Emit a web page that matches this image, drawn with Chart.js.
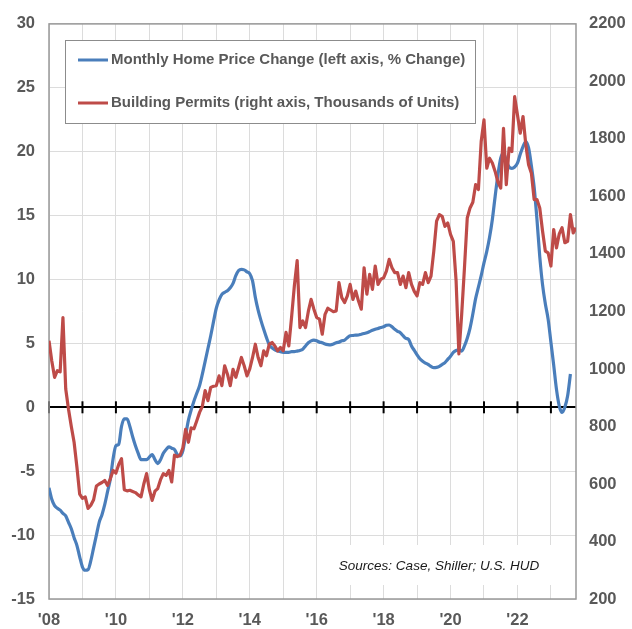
<!DOCTYPE html>
<html>
<head>
<meta charset="utf-8">
<script src="https://cdn.jsdelivr.net/npm/chart.js@4/dist/chart.umd.min.js"></script>
<style>
  html, body { margin: 0; padding: 0; background: #fff; }
  canvas { display: block; }
</style>
</head>
<body>
<canvas id="chart" width="632" height="629"></canvas>
<script>
// monthly series, first value = Jan 2008
const startYear = 2008;
const seriesLabels = ['Monthly Home Price Change (left axis, % Change)', 'Building Permits (right axis, Thousands of Units)'];
const sourceNote = 'Sources: Case, Shiller; U.S. HUD';

// Case-Shiller, % change
const priceChange = [
  -6.3, -7.2, -7.7, -7.9, -8.05, -8.3, -8.5, -9.0, -9.5, -10.2,
  -10.8, -11.7, -12.5, -12.75, -12.7, -12.0, -11.0, -10.0, -9.0, -8.4,
  -7.6, -6.6, -5.6, -4.0, -3.0, -2.9, -1.5, -0.9, -0.9, -1.5,
  -2.3, -3.0, -3.6, -4.1, -4.1, -4.1, -3.9, -3.7, -4.1, -4.4,
  -4.1, -3.6, -3.3, -3.1, -3.2, -3.3, -3.7, -3.8, -3.4, -2.2,
  -1.0, -0.2, 0.5, 1.1, 1.7, 2.6, 3.6, 4.6, 5.6, 6.7,
  7.75, 8.4, 8.84, 9.0, 9.12, 9.35, 9.7, 10.3, 10.7, 10.8,
  10.75, 10.6, 10.45, 9.9, 8.6, 7.6, 6.8, 6.1, 5.45, 4.9,
  4.65, 4.5, 4.4, 4.35, 4.3, 4.3, 4.3, 4.35, 4.35, 4.4,
  4.45, 4.55, 4.8, 5.05, 5.2, 5.25, 5.2, 5.1, 5.05, 4.95,
  4.9, 4.88, 4.95, 5.05, 5.1, 5.2, 5.25, 5.45, 5.6, 5.62,
  5.65, 5.66, 5.72, 5.78, 5.84, 5.93, 6.02, 6.1, 6.17, 6.24,
  6.3, 6.42, 6.44, 6.3, 6.1, 5.95, 5.84, 5.6, 5.4, 5.3,
  4.8, 4.45, 4.1, 3.8, 3.6, 3.45, 3.35, 3.2, 3.1, 3.12,
  3.2, 3.35, 3.5, 3.75, 4.0, 4.3, 4.45, 4.5, 4.4, 4.8,
  5.4, 6.2, 7.3, 8.5, 9.4, 10.3, 11.3, 12.2, 13.3, 14.7,
  16.5, 18.2, 19.5, 19.9, 19.3, 18.8, 18.7, 18.8, 19.1, 19.8,
  20.4, 20.8, 20.3, 18.9, 17.2, 14.7, 11.8, 9.6, 8.1, 6.9,
  5.1, 3.3, 1.4, 0.1, -0.4, 0.0, 0.9, 2.6
];

// building permits, thousands of units
const permits = [
  1098, 1028, 971, 994, 990, 1179, 930, 860, 800, 745,
  660, 565, 550, 555, 515, 526, 545, 593, 600, 605,
  612, 595, 618, 647, 638, 668, 688, 580, 576, 578,
  574, 570, 562, 555, 600, 636, 580, 543, 575, 584,
  615, 636, 630, 647, 607, 700, 695, 700, 725, 790,
  745, 795, 792, 820, 849, 870, 925, 890, 936, 940,
  942, 976, 942, 1011, 982, 942, 999, 971, 1005, 1040,
  1011, 976, 1000, 1040, 1086, 1040, 1011, 1063, 1046, 1086,
  1092, 1080, 1063, 1075, 1063, 1127, 1080, 1180, 1290, 1377,
  1144, 1167, 1144, 1200, 1242, 1208, 1179, 1173, 1121, 1190,
  1211, 1205, 1199, 1202, 1300, 1248, 1231, 1254, 1294, 1242,
  1271, 1236, 1208, 1352, 1260, 1329, 1277, 1358, 1294, 1312,
  1317, 1340, 1381, 1352, 1335, 1335, 1294, 1323, 1283, 1335,
  1294, 1270, 1254, 1300, 1294, 1335, 1300, 1323, 1410, 1514,
  1537, 1531, 1496, 1508, 1468, 1444, 1306, 1052, 1190, 1352,
  1525, 1560, 1580, 1641, 1624, 1791, 1866, 1698, 1733, 1716,
  1687, 1650, 1629, 1837, 1641, 1768, 1756, 1947, 1884, 1820,
  1878, 1780, 1710, 1681, 1589, 1589, 1560, 1480, 1410, 1404,
  1358, 1485, 1421, 1470, 1491, 1439, 1444, 1537, 1473, 1491
];

const blue = '#4a7ebb';
const red = '#be4b48';
const textGray = '#595959';
const fontFamily = "'Liberation Sans', Arial, Helvetica, sans-serif";
const tickFont = { family: fontFamily, size: 16.5, weight: 'bold' };

const toPoints = arr => arr.map((v, i) => ({ x: startYear + i / 12, y: v }));

const extras = {
  id: 'extras',
  beforeDatasetsDraw(chart) {
    const { ctx, chartArea: a, scales: { x, y } } = chart;
    const y0 = y.getPixelForValue(0);
    ctx.save();
    // small tick marks on the zero line
    ctx.strokeStyle = '#000';
    ctx.lineWidth = 2;
    x.ticks.forEach(t => {
      if (!Number.isInteger(t.value)) return;
      const px = x.getPixelForValue(t.value);
      ctx.beginPath();
      ctx.moveTo(px, y0 - 6);
      ctx.lineTo(px, y0 + 6);
      ctx.stroke();
    });
    // sources note
    ctx.fillStyle = '#fff';
    ctx.fillRect(318, 545, 238, 40);
    ctx.fillStyle = '#1a1a1a';
    ctx.font = 'italic 13.5px ' + fontFamily;
    ctx.textAlign = 'center';
    ctx.textBaseline = 'middle';
    ctx.fillText(sourceNote, 439, 566);
    // plot frame
    ctx.strokeStyle = '#999';
    ctx.lineWidth = 1.5;
    ctx.strokeRect(a.left, a.top, a.right - a.left, a.bottom - a.top);
    ctx.restore();
  },
  afterDraw(chart) {
    const { ctx } = chart;
    ctx.save();
    ctx.fillStyle = '#fff';
    ctx.fillRect(65, 40, 410, 83);
    ctx.strokeStyle = '#8c8c8c';
    ctx.lineWidth = 1;
    ctx.strokeRect(65.5, 40.5, 410, 83);
    ctx.font = 'bold 15px ' + fontFamily;
    ctx.textBaseline = 'middle';
    ctx.textAlign = 'left';
    const rows = [60, 103];
    chart.data.datasets.forEach((ds, i) => {
      ctx.strokeStyle = ds.borderColor;
      ctx.lineWidth = 3;
      ctx.beginPath();
      ctx.moveTo(78, rows[i]);
      ctx.lineTo(108, rows[i]);
      ctx.stroke();
      ctx.fillStyle = textGray;
      ctx.fillText(ds.label, 111, rows[i]);
    });
    ctx.restore();
  }
};

new Chart(document.getElementById('chart'), {
  type: 'line',
  data: {
    datasets: [
      {
        label: seriesLabels[0],
        data: toPoints(priceChange),
        yAxisID: 'y',
        borderColor: blue,
        borderWidth: 3.2,
        pointRadius: 0,
        cubicInterpolationMode: 'monotone',
        order: 2
      },
      {
        label: seriesLabels[1],
        data: toPoints(permits),
        yAxisID: 'y2',
        borderColor: red,
        borderWidth: 3.2,
        pointRadius: 0,
        tension: 0,
        borderJoinStyle: 'round',
        order: 1
      }
    ]
  },
  options: {
    responsive: false,
    animation: false,
    events: [],
    layout: { padding: { top: 22, left: 0, right: 0, bottom: 0 } },
    plugins: { legend: { display: false }, tooltip: { enabled: false } },
    scales: {
      x: {
        type: 'linear',
        min: startYear,
        max: startYear + (permits.length - 1) / 12,
        afterFit: s => { s.height = 30; },
        border: { display: false },
        grid: { color: '#dcdcdc', drawTicks: false },
        ticks: {
          stepSize: 1,
          includeBounds: false,
          autoSkip: false,
          maxRotation: 0,
          padding: 12,
          color: textGray,
          font: tickFont,
          callback: v => (Number.isInteger(v) && v % 2 === 0) ? "'" + String(v).slice(2) : ''
        }
      },
      y: {
        position: 'left',
        min: -15,
        max: 30,
        afterFit: s => { s.width = 49; },
        border: { display: false },
        grid: {
          drawTicks: false,
          color: c => c.tick.value === 0 ? '#000' : '#dcdcdc',
          lineWidth: c => c.tick.value === 0 ? 2 : 1
        },
        ticks: {
          stepSize: 5,
          padding: 14,
          color: textGray,
          font: tickFont,
          callback: v => String(v)
        }
      },
      y2: {
        position: 'right',
        min: 200,
        max: 2200,
        afterFit: s => { s.width = 56; },
        border: { display: false },
        grid: { drawOnChartArea: false, drawTicks: false },
        ticks: {
          stepSize: 200,
          padding: 13,
          color: textGray,
          font: tickFont,
          callback: v => String(v)
        }
      }
    }
  },
  plugins: [extras]
});
</script>
</body>
</html>
